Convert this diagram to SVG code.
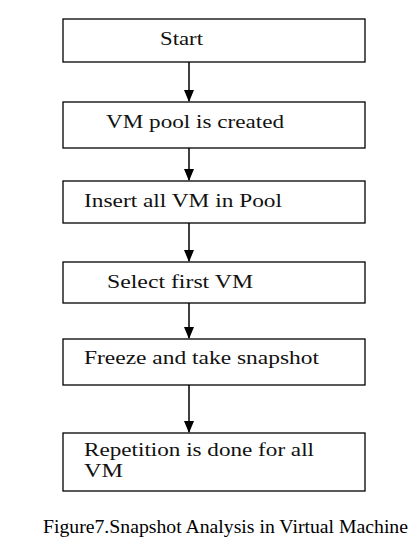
<svg xmlns="http://www.w3.org/2000/svg" width="415" height="548" viewBox="0 0 415 548">
<defs>
<marker id="ah" markerWidth="12" markerHeight="10" refX="11" refY="5" orient="auto" markerUnits="userSpaceOnUse">
<path d="M0,0 L12,5 L0,10 Z" fill="#000"/>
</marker>
</defs>
<style>
.box{fill:#fff;stroke:#000;stroke-width:1.3}
.t{font-family:"Liberation Serif","DejaVu Serif","Times New Roman",serif;font-size:18px;fill:#111}
.cap{font-family:"Liberation Serif","DejaVu Serif","Times New Roman",serif;font-size:19.5px;fill:#000}
.c{stroke:#000;stroke-width:1.5;fill:none}
</style>
<rect width="415" height="548" fill="#fff"/>
<g id="n1"><rect class="box" x="63" y="19" width="302" height="43"/><text class="t" x="160" y="45" textLength="43" lengthAdjust="spacingAndGlyphs">Start</text></g>
<g id="n2"><rect class="box" x="63" y="102" width="302" height="46"/><text class="t" x="106" y="128" textLength="178" lengthAdjust="spacingAndGlyphs">VM pool is created</text></g>
<g id="n3"><rect class="box" x="63" y="181" width="302" height="42"/><text class="t" x="84" y="207" textLength="198" lengthAdjust="spacingAndGlyphs">Insert all VM in Pool</text></g>
<g id="n4"><rect class="box" x="63" y="262" width="302" height="41"/><text class="t" x="107" y="288" textLength="146" lengthAdjust="spacingAndGlyphs">Select first VM</text></g>
<g id="n5"><rect class="box" x="63" y="339" width="302" height="46"/><text class="t" x="84" y="364" textLength="235" lengthAdjust="spacingAndGlyphs">Freeze and take snapshot</text></g>
<g id="n6"><rect class="box" x="63" y="433" width="302" height="58"/><text class="t" x="84" y="456" textLength="230" lengthAdjust="spacingAndGlyphs">Repetition is done for all</text><text class="t" x="84" y="477" textLength="39" lengthAdjust="spacingAndGlyphs">VM</text></g>
<g id="connectors">
<line class="c" x1="189" y1="62" x2="189" y2="101" marker-end="url(#ah)"/>
<line class="c" x1="189" y1="148" x2="189" y2="180" marker-end="url(#ah)"/>
<line class="c" x1="189" y1="223" x2="189" y2="261" marker-end="url(#ah)"/>
<line class="c" x1="189" y1="303" x2="189" y2="338" marker-end="url(#ah)"/>
<line class="c" x1="189" y1="385" x2="189" y2="432" marker-end="url(#ah)"/>
</g>
<text class="cap" x="43" y="533" textLength="365" lengthAdjust="spacingAndGlyphs">Figure7.Snapshot Analysis in Virtual Machine</text>
</svg>
